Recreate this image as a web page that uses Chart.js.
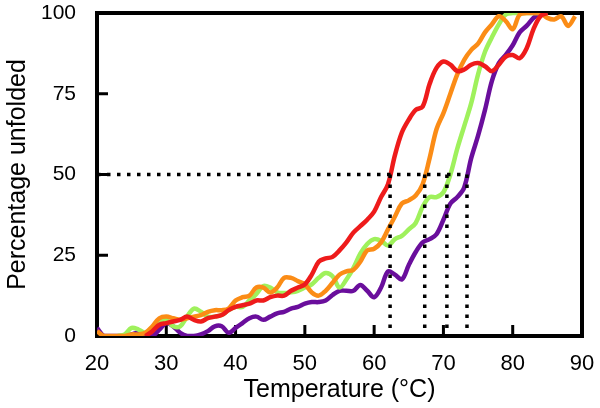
<!DOCTYPE html>
<html>
<head>
<meta charset="utf-8">
<script src="https://cdn.jsdelivr.net/npm/chart.js@4"></script>
<style>
  html, body { margin: 0; padding: 0; background: #fff; }
</style>
</head>
<body>
<canvas id="myChart" width="600" height="408"></canvas>
<script>
// temperature grid (°C)
const temps = [20, 21, 22, 23, 24, 25, 26, 27, 28, 29,
               30, 31, 32, 33, 34, 35, 36, 37, 38, 39,
               40, 41, 42, 43, 44, 45, 46, 47, 48, 49,
               50, 51, 52, 53, 54, 55, 56, 57, 58, 59,
               60, 61, 62, 63, 64, 65, 66, 67, 68, 69,
               70, 71, 72, 73, 74, 75, 76, 77, 78, 79,
               80, 81, 82, 83, 84, 85, 86, 87, 88, 89, 90];

// percentage unfolded per sample
const redValues = [null, null, null, null, null, null, null, 0, 1.5, 3.5,
                   4, 4.5, 5, 6, 5, 4.5, 5.5, 6, 6.5, 8,
                   9, 9.5, 10, 11, 11, 12, 12.5, 12.5, 14, 15,
                   16, 19, 23, 24, 24.5, 26.5, 29, 32, 34, 36,
                   38.5, 43, 47, 56, 63, 67, 70, 71, 78, 83,
                   85, 84, 82, 82.5, 84, 84.5, 83.5, 82, 84, 86.5,
                   87, 86, 89, 95, 99, 100, null, null, null, null, null];

const orangeValues = [1.5, 0, 0, 0, 0, 0.5, 0.5, 1, 3, 5.5,
                      6, 5.5, 5, 5.5, 6, 6.5, 7.5, 8, 8, 8.5,
                      11, 12, 12.5, 15, 15, 13.5, 15, 18, 18, 17,
                      16, 13.5, 12.5, 14, 16.5, 19, 20, 20.5, 23, 26.5,
                      27, 29, 33, 37, 41, 42, 43.5, 47, 55, 64,
                      69, 75, 81, 85.5, 88.5, 90.5, 94, 96.5, 99, 97.5,
                      95, 99.5, 100, 100, 100, 98.5, 98, 99, 96, 99, null];

const greenValues = [null, null, null, 0, 0.5, 2.5, 2, 1, 2.5, 4.5,
                     5, 3, 3, 6, 8.5, 7.5, 6, 6, 6.5, 8,
                     9, 9, 11, 13, 15.5, 15, 13.5, 13.3, 13.5, 14,
                     15, 16, 18, 19.5, 18.5, 15, 17.5, 21, 25.5, 28.5,
                     30, 29.5, 28, 30, 31, 33, 35, 40, 43, 43,
                     44.5, 50, 58, 65, 72, 81, 88, 92.5, 96.5, 99.5,
                     100, 100, 100, 100, 100, 100, null, null, null, null, null];

const purpleValues = [2.5, 0, 0, 0, 0, 0.5, 1, 0, 0, 2,
                      4, 3, 1, 0, 0, 0.5, 1.5, 3, 3, 1,
                      2.5, 4, 5.5, 6, 5, 6, 7, 7.5, 8.5, 9,
                      10, 10.5, 10.5, 11, 12.7, 14, 14, 14, 15.8, 14,
                      12, 15, 20, 19, 17.5, 22, 26, 29, 30, 31.5,
                      36, 41, 43, 46, 55, 62, 70, 79, 84.5, 87,
                      90, 94, 96, 98.5, 100, null, null, null, null, null, null];

// melting temperatures marked by the dotted guides
const meltTemps = [62.3, 67.3, 70.5, 73.4];
const halfLevel = 50;

const xTicks = [20, 30, 40, 50, 60, 70, 80, 90];
const yTicks = [0, 25, 50, 75, 100];

const fontFamily = "'Liberation Sans', Arial, sans-serif";

function toPoints(values) {
    return temps.map((t, i) => ({ x: t, y: values[i] }));
}

function curve(values, color, order) {
    return {
        data: toPoints(values),
        borderColor: color,
        borderWidth: 4.5,
        tension: 0.35,
        pointRadius: 0,
        spanGaps: false,
        order: order
    };
}

function dotted(points) {
    return {
        data: points,
        borderColor: '#000',
        borderWidth: 3.5,
        borderDash: [3.5, 6.5],
        tension: 0,
        pointRadius: 0,
        order: 0
    };
}

const guideSets = [dotted([{ x: xTicks[0], y: halfLevel }, { x: meltTemps[meltTemps.length - 1], y: halfLevel }])];
meltTemps.forEach(t => guideSets.push(dotted([{ x: t, y: halfLevel }, { x: t, y: 0 }])));

// box around the plot with inward tick marks
const framePlugin = {
    id: 'frame',
    beforeDatasetsDraw(chart) {
        const { ctx, chartArea: a, scales: { x, y } } = chart;
        ctx.save();
        ctx.strokeStyle = '#000';
        ctx.lineWidth = 3;
        ctx.beginPath();
        xTicks.slice(1, -1).forEach(v => {
            const px = x.getPixelForValue(v);
            ctx.moveTo(px, a.bottom);
            ctx.lineTo(px, a.bottom - 11);
        });
        yTicks.slice(1, -1).forEach(v => {
            const py = y.getPixelForValue(v);
            ctx.moveTo(a.left, py);
            ctx.lineTo(a.left + 11, py);
        });
        ctx.stroke();
        ctx.lineWidth = 4;
        ctx.strokeRect(a.left, a.top, a.right - a.left, a.bottom - a.top);
        ctx.restore();
    }
};

new Chart("myChart", {
    type: "line",
    data: {
        datasets: [
            ...guideSets,
            curve(redValues, '#ee1b1b', 1),
            curve(orangeValues, '#fb8c16', 2),
            curve(greenValues, '#9ff15c', 3),
            curve(purpleValues, '#6a0e9c', 4)
        ]
    },
    options: {
        responsive: false,
        animation: false,
        layout: { padding: { top: 13, right: 18, left: 0, bottom: 0 } },
        plugins: {
            legend: { display: false },
            tooltip: { enabled: false }
        },
        scales: {
            x: {
                type: 'linear',
                min: 20,
                max: 90,
                afterFit: s => { s.height = 72; s.paddingLeft = 0; s.paddingRight = 0; },
                grid: { display: false },
                border: { display: false },
                ticks: {
                    stepSize: 10,
                    padding: 7,
                    color: '#000',
                    font: { family: fontFamily, size: 22 }
                },
                title: {
                    display: true,
                    text: 'Temperature (°C)',
                    color: '#000',
                    font: { family: fontFamily, size: 25 },
                    padding: { top: 0, bottom: 3 }
                }
            },
            y: {
                min: 0,
                max: 100,
                afterFit: s => { s.width = 97; s.paddingTop = 0; s.paddingBottom = 0; },
                grid: { display: false },
                border: { display: false },
                ticks: {
                    stepSize: 25,
                    padding: 13,
                    color: '#000',
                    font: { family: fontFamily, size: 21 }
                },
                title: {
                    display: true,
                    text: 'Percentage unfolded',
                    color: '#000',
                    font: { family: fontFamily, size: 25 },
                    padding: { top: 3, bottom: 0 }
                }
            }
        }
    },
    plugins: [framePlugin]
});
</script>
</body>
</html>
